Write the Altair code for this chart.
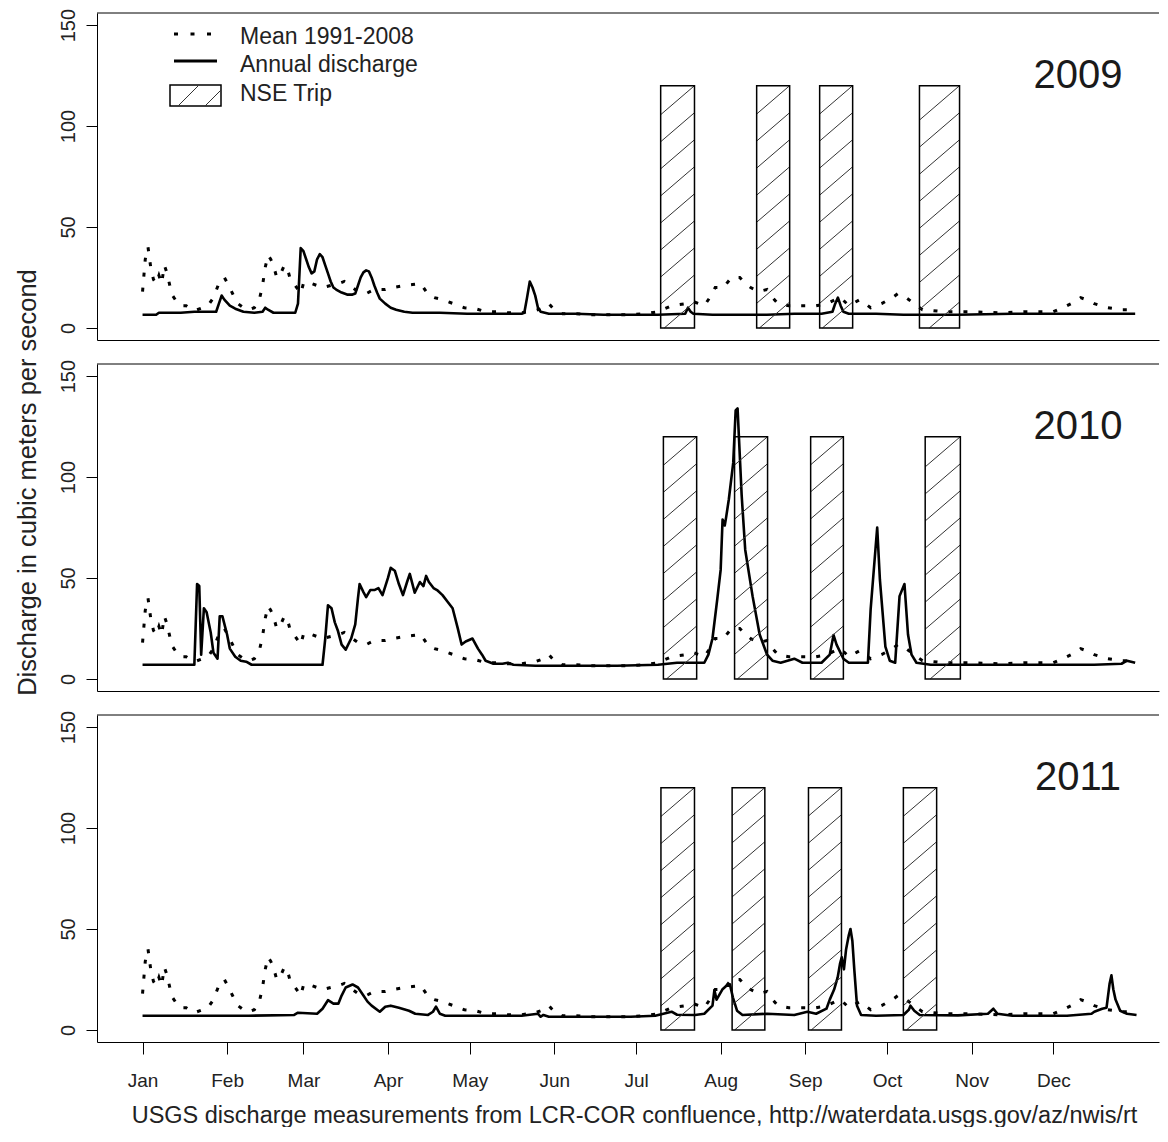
import altair as alt
import pandas as pd

FONT = "Liberation Sans"

MONTH_DAYS = [1, 32, 60, 91, 121, 152, 182, 213, 244, 274, 305, 335]
MONTH_LABELS = ["Jan", "Feb", "Mar", "Apr", "May", "Jun", "Jul", "Aug", "Sep", "Oct", "Nov", "Dec"]
Y_TICKS = [0, 50, 100, 150]

YEARS = [2009, 2010, 2011]

# Mean 1991-2008 (same in every panel)
MEAN_DAY = [1, 2, 3, 4, 5, 6, 7, 8, 9, 10, 11, 12, 13, 15, 17, 19, 21, 23, 25, 27, 29, 31, 33, 34, 36, 38,
            40, 42, 44, 45, 46, 47, 48, 49, 50, 51, 52, 53, 54, 55, 57, 59, 60, 61, 63, 65, 67, 70, 73, 75,
            78, 80, 83, 86, 90, 93, 97, 100, 103, 105, 106, 108, 111, 115, 119, 123, 127, 131, 135, 140,
            145, 148, 150, 152, 155, 160, 165, 170, 175, 180, 185, 190, 195, 200, 203, 207, 209, 211, 214,
            217, 220, 222, 224, 227, 230, 232, 234, 238, 243, 248, 252, 255, 257, 260, 264, 268, 272, 276,
            278, 280, 283, 287, 295, 305, 315, 325, 335, 340, 343, 345, 347, 350, 355, 360, 365]
MEAN_Q = [18, 34, 40, 30, 24, 22, 26, 22, 31, 27, 21, 16, 14, 11, 11, 9, 9, 10, 11, 15, 22, 25, 20, 17, 12, 10,
          9, 10, 15, 21, 30, 36, 34, 31, 26, 25, 28, 31, 30, 25, 21, 17, 22, 21, 22, 21, 20, 21, 22, 23,
          20, 18, 17, 19, 19, 20, 21, 21.5, 22, 18, 16, 15, 14, 12, 10, 9.5, 8, 8, 7.5, 7.5,
          8.5, 10, 12, 9, 7, 7, 6.5, 6.5, 6.5, 6.5, 7, 8, 11, 12, 13, 11, 15, 20, 20,
          25, 25, 22, 20, 18, 19, 15, 12, 11, 11, 11, 12, 14, 15, 11, 14, 10, 12, 15,
          17, 16, 13, 9, 8, 8, 7.5, 8, 8, 11, 13, 15, 14, 12, 10, 9, 9]

# Annual discharge
Q2009_DAY = [1, 6, 7, 15, 20, 27, 28, 29, 30, 31, 33, 35, 38, 42, 45, 46, 47, 49, 57, 58, 59, 60, 61, 62, 63,
             64, 65, 66, 67, 68, 69, 70, 71, 72, 74, 76, 78, 79, 80, 81, 82, 83, 84, 85, 86, 87, 88, 90, 92,
             94, 97, 100, 110, 120, 130, 140, 141, 142, 143, 144, 145, 146, 147, 150, 160, 170, 180, 190,
             200, 201, 202, 203, 210, 230, 240, 250, 254, 255, 256, 257, 258, 260, 270, 280, 290, 300, 320,
             340, 365]
Q2009 = [6.5, 6.5, 7.5, 7.5, 8, 8, 8, 12, 16, 14, 11, 9.5, 8, 7.5, 8, 10, 9, 7.5, 7.5, 12, 39.5, 38, 34, 30, 27,
         28, 34, 36.5, 35, 31, 27, 23, 20, 19, 17.5, 16.5, 16.5, 17, 21, 25, 27.5, 28.5, 28, 25, 21, 17.5, 14.5,
         12, 10, 9, 8, 7.5, 7.5, 7, 7, 7, 7.5, 15, 23, 20, 16, 10, 8, 7, 7, 6.5, 6.5, 6.5,
         7, 10, 8, 7, 6.5, 6.5, 7, 7, 8, 12, 15, 11, 8, 7, 7, 6.5, 6.5, 6.5, 7,
         7, 7]

Q2010_DAY = [1, 20, 20.5, 21, 21.8, 22.5, 23.5, 24.5, 26, 27, 28.5, 29.3, 30.3, 32, 33, 35, 37, 39, 41, 67, 68,
             69, 70.3, 71.5, 72.6, 74, 75.5, 77.5, 79, 80, 80.6, 82, 83, 84.5, 86, 87.5, 89, 91, 92, 93.5, 95,
             96.5, 98, 99, 100.8, 102.7, 104, 105, 106, 107.7, 109, 111, 113, 114.7, 116.6, 118, 119.5, 122,
             124, 125.5, 126.8, 129.7, 133, 135, 137, 145, 175, 190, 197, 207, 208.5, 210, 211.8, 213, 213.7,
             214.5, 215, 216, 217.6, 218.5, 219.2, 220.7, 222, 224.7, 227.3, 230, 232, 235, 240, 243, 250,
             253, 254.4, 255.5, 258, 260, 267, 268, 270.4, 271.4, 273.4, 275, 277, 278.6, 280.4, 281.7, 283,
             284.8, 290, 300, 330, 350, 360, 362, 365]
Q2010 = [7, 7, 27, 47, 46, 12, 35, 33, 23, 13, 10, 31, 31, 22, 15, 11, 9, 8.5, 7, 7, 20,
         36.5, 35, 28, 24, 17, 14.5, 20, 27, 40, 47, 43, 40.5, 44, 44, 45, 41.5, 50, 55, 53.6, 47,
         41.5, 48, 52, 42.7, 48, 46, 51, 48, 45, 44, 41.5, 38, 35, 25, 17, 18.5, 20,
         15, 12, 9, 7.5, 7.5, 8, 7, 6.5, 6.5, 7, 8, 8, 12, 20, 40, 54, 79,
         76, 80, 89, 107, 133, 134, 91, 64, 41, 22, 12, 9, 8, 10, 8, 8,
         12, 21.7, 17, 10, 8, 8, 34.5, 75, 49, 16, 9, 8, 41, 47, 22, 12,
         8, 7, 7, 7, 7, 7.5, 9, 8]

Q2011_DAY = [1, 20, 40, 56.6, 58, 65, 67, 69, 71, 72.8, 74, 75.5, 78, 80, 82, 83.5, 85, 88, 90, 92, 95, 98.7,
             101, 105.7, 107.5, 108.6, 110, 112, 140, 146, 147, 148, 150, 160, 180, 189, 195, 197, 203.6,
             207, 210, 210.7, 211.5, 213.6, 215, 216.4, 217.5, 219, 221, 230, 240, 244.8, 248, 251.8, 253,
             254.6, 255.9, 256.8, 257.4, 258.2, 259, 260, 260.6, 261.3, 262, 263, 264.5, 270, 280, 282,
             282.6, 284, 286, 300, 311, 313, 314.5, 320, 340, 349, 350, 352.9, 354.5, 355.6, 356.3, 357,
             357.8, 359.5, 362, 365.5]
Q2011 = [7, 7, 7, 7.4, 8.5, 8, 10.5, 14.7, 13, 13, 17, 21, 22.5, 21, 17, 14, 12, 9, 11.5, 12, 11, 9.5,
         8, 7.4, 9, 11.5, 8, 7, 7, 8, 6.5, 7.4, 6.5, 6.5, 6.5, 7, 9, 7.5, 7.4,
         8, 12, 19.7, 15, 20, 21.7, 22.5, 16, 9.5, 7.4, 8, 7.4, 9, 8, 10.5, 15,
         20, 26, 33, 36, 30, 40, 47, 50, 44, 30, 12, 7.4, 7, 7.4, 10,
         12, 9.5, 7.4, 7.2, 8, 10.5, 8, 7, 7, 8, 9, 10.5, 11, 22.7, 27, 20,
         15, 9.5, 8, 7.4]

ANNUAL = {2009: (Q2009_DAY, Q2009), 2010: (Q2010_DAY, Q2010), 2011: (Q2011_DAY, Q2011)}

# NSE trips (start day, end day)
TRIPS = {
    2009: [(191, 203.4), (226.2, 238.3), (249.3, 261.4), (285.9, 300.6)],
    2010: [(192, 204.2), (218.1, 230.2), (246, 258), (288, 300.9)],
    2011: [(191.1, 203.4), (217.2, 229.2), (245.2, 257.3), (280, 292.2)],
}
TRIP_BOTTOM = 0
TRIP_TOP = 120

YEAR_LABEL_DAY = 344
YEAR_LABEL_Q = 125

LEGEND_LABELS = ["Mean 1991-2008", "Annual discharge", "NSE Trip"]
Y_TITLE = "Discharge in cubic meters per second"
FOOTER = "USGS discharge measurements from LCR-COR confluence, http://waterdata.usgs.gov/az/nwis/rt"

# layout
W = 1062
H = 327
XDOM = [-15.7, -15.7 + W / 2.727]
YDOM = [-6, 156]

# hatch styling (slope in data units per day, vertical spacing in data units)
HATCH_SLOPE = 1.16
HATCH_SPACING = 13.4


def hatch_rows(trips):
    rows = []
    for a, b in trips:
        w = b - a
        c = TRIP_TOP - HATCH_SLOPE * w
        while c + HATCH_SLOPE * w > TRIP_BOTTOM:
            x0 = max(a, a + (TRIP_BOTTOM - c) / HATCH_SLOPE)
            x1 = min(b, a + (TRIP_TOP - c) / HATCH_SLOPE)
            if x1 > x0:
                rows.append({"day": x0, "day2": x1,
                             "q": c + HATCH_SLOPE * (x0 - a), "q2": c + HATCH_SLOPE * (x1 - a)})
            c -= HATCH_SPACING
    return pd.DataFrame(rows)


label_expr = "[" + ",".join("'%s'" % m for m in MONTH_LABELS) + "][indexof([" + \
    ",".join(str(d) for d in MONTH_DAYS) + "], datum.value)]"


def panel(year, idx):
    bottom = idx == 2
    if bottom:
        xaxis = alt.Axis(values=MONTH_DAYS, labelExpr=label_expr, tickSize=12, tickColor="black",
                         labelFontSize=19, labelPadding=17, labelColor="#222", labelFont=FONT,
                         domain=True, domainColor="black", grid=False,
                         title=FOOTER, titleFontSize=23.5, titleFontWeight="normal", titleColor="#222",
                         titleFont=FONT, titleX=537, titleY=80, titleAlign="center",
                         titleBaseline="alphabetic", labelFlush=False, labelOverlap=False)
    else:
        xaxis = alt.Axis(labels=False, ticks=False, title=None, domain=True, domainColor="black",
                         grid=False)
    if idx == 1:
        yaxis = alt.Axis(values=Y_TICKS, tickSize=11, tickColor="black", labelAngle=270,
                         labelAlign="center", labelBaseline="alphabetic", labelPadding=12,
                         labelFontSize=20, labelColor="#222", labelFont=FONT, domain=True,
                         domainColor="black", grid=False, labelFlush=False, labelOverlap=False,
                         title=Y_TITLE, titleFontSize=25.5, titleFontWeight="normal", titleColor="#222",
                         titleFont=FONT, titleAngle=270, titleX=-62, titleY=118, titleAlign="center",
                         titleBaseline="alphabetic")
    else:
        yaxis = alt.Axis(values=Y_TICKS, tickSize=11, tickColor="black", labelAngle=270,
                         labelAlign="center", labelBaseline="alphabetic", labelPadding=12,
                         labelFontSize=20, labelColor="#222", labelFont=FONT, domain=True,
                         domainColor="black", grid=False, labelFlush=False, labelOverlap=False,
                         title=None)

    xs = alt.Scale(domain=XDOM, nice=False, zero=False)
    ys = alt.Scale(domain=YDOM, nice=False, zero=False)
    X = alt.X("day:Q", scale=xs, axis=xaxis)
    Y = alt.Y("q:Q", scale=ys, axis=yaxis)

    mean_df = pd.DataFrame({"day": MEAN_DAY, "q": MEAN_Q})
    d, q = ANNUAL[year]
    ann_df = pd.DataFrame({"day": d, "q": q})
    trip_df = pd.DataFrame({"day": [t[0] for t in TRIPS[year]], "day2": [t[1] for t in TRIPS[year]],
                            "q": [TRIP_BOTTOM] * len(TRIPS[year]), "q2": [TRIP_TOP] * len(TRIPS[year])})
    h_df = hatch_rows(TRIPS[year])
    lab_df = pd.DataFrame({"day": [YEAR_LABEL_DAY], "q": [YEAR_LABEL_Q], "label": [str(year)]})

    layers = [
        alt.Chart(mean_df).mark_line(color="black", strokeWidth=3, strokeDash=[4, 11],
                                     strokeCap="butt").encode(x=X, y=Y),
        alt.Chart(ann_df).mark_line(color="black", strokeWidth=2.6, strokeJoin="round").encode(x=X, y=Y),
        alt.Chart(h_df).mark_rule(color="#333", strokeWidth=1).encode(x=X, x2="day2:Q", y=Y, y2="q2:Q"),
        alt.Chart(trip_df).mark_rect(fillOpacity=0, stroke="black", strokeWidth=1.5).encode(
            x=X, x2="day2:Q", y=Y, y2="q2:Q"),
        alt.Chart(lab_df).mark_text(fontSize=40, font=FONT, color="#1a1a1a", align="center",
                                    baseline="middle").encode(x=X, y=Y, text="label:N"),
        alt.Chart(pd.DataFrame({"t": [0]})).mark_rule(color="black", strokeWidth=1).encode(
            x=alt.value(0), x2=alt.value(W), y=alt.value(0)),
    ]
    if idx == 0:
        one = pd.DataFrame({"t": [0]})
        layers += [
            alt.Chart(one).mark_rule(color="black", strokeWidth=3, strokeDash=[4, 12.5],
                                     strokeCap="butt").encode(
                x=alt.value(77), x2=alt.value(117), y=alt.value(21)),
            alt.Chart(one).mark_rule(color="black", strokeWidth=3).encode(
                x=alt.value(77), x2=alt.value(120), y=alt.value(48)),
            alt.Chart(one).mark_rect(fillOpacity=0, stroke="black", strokeWidth=1.5).encode(
                x=alt.value(73), x2=alt.value(124), y=alt.value(72), y2=alt.value(93)),
            alt.Chart(one).mark_rule(color="#333", strokeWidth=1).encode(
                x=alt.value(81), x2=alt.value(101), y=alt.value(93), y2=alt.value(73)),
            alt.Chart(one).mark_rule(color="#333", strokeWidth=1).encode(
                x=alt.value(108), x2=alt.value(124), y=alt.value(93), y2=alt.value(77)),
        ]
        for lab, yy in zip(LEGEND_LABELS, [24, 52, 81]):
            layers.append(
                alt.Chart(pd.DataFrame({"t": [lab]})).mark_text(
                    fontSize=23, font=FONT, color="#222", align="left", baseline="middle").encode(
                    x=alt.value(143), y=alt.value(yy), text="t:N"))
    return alt.layer(*layers).properties(width=W, height=H)


chart = alt.vconcat(*[panel(y, i) for i, y in enumerate(YEARS)], spacing=24, bounds="flush").properties(
    padding={"left": 6, "top": 0, "right": 0, "bottom": 0}
).configure_view(stroke=None).configure_axis(grid=False)

chart.save("out.html", embed_options={"renderer": "svg", "actions": False})
